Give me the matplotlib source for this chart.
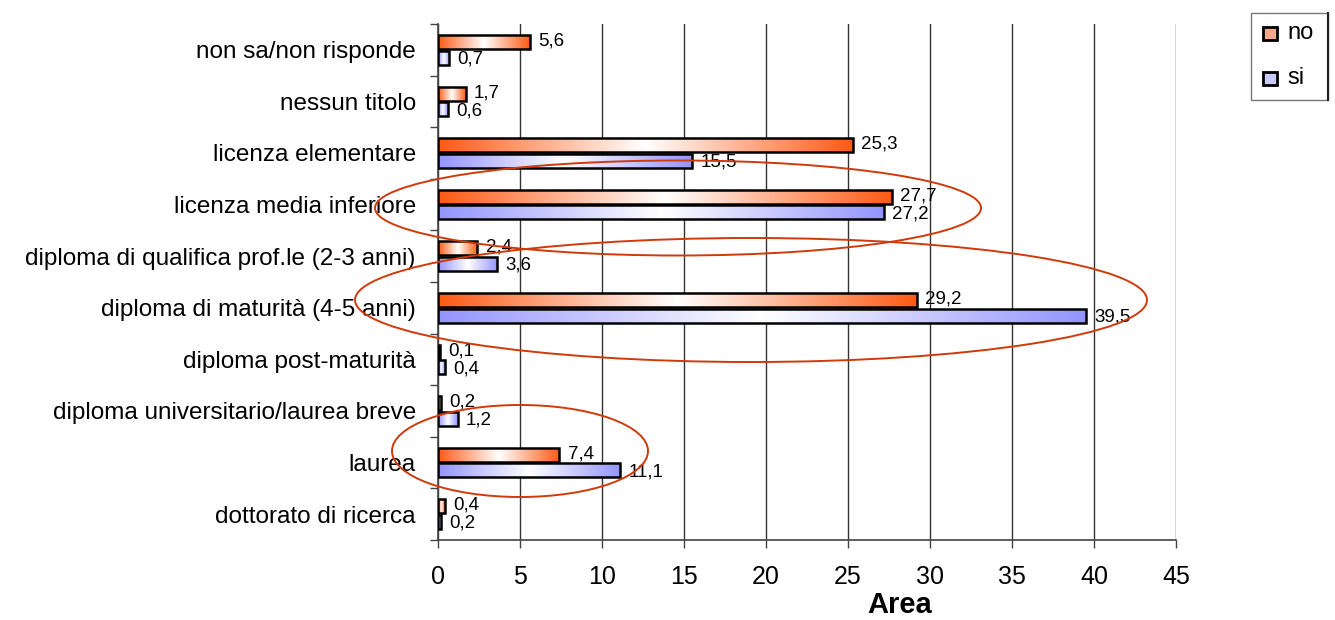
import numpy as np
import matplotlib
matplotlib.use("Agg")
import matplotlib.pyplot as plt
from matplotlib.colors import LinearSegmentedColormap
from matplotlib.patches import Ellipse, Rectangle
from matplotlib.lines import Line2D

plt.rcParams['font.family'] = ['Liberation Sans', 'DejaVu Sans']

categories = [
    "non sa/non risponde",
    "nessun titolo",
    "licenza elementare",
    "licenza media inferiore",
    "diploma di qualifica prof.le (2-3 anni)",
    "diploma di maturità (4-5 anni)",
    "diploma post-maturità",
    "diploma universitario/laurea breve",
    "laurea",
    "dottorato di ricerca",
]
no_values = [5.6, 1.7, 25.3, 27.7, 2.4, 29.2, 0.1, 0.2, 7.4, 0.4]
si_values = [0.7, 0.6, 15.5, 27.2, 3.6, 39.5, 0.4, 1.2, 11.1, 0.2]
series_names = ["no", "si"]
x_ticks = [0, 5, 10, 15, 20, 25, 30, 35, 40, 45]

W, H = 1335, 620
fig = plt.figure(figsize=(W / 100, H / 100), dpi=100)
ax = fig.add_axes([438 / W, 1 - 540 / H, (1176 - 438) / W, (540 - 24) / H])

orange = "#FF5A14"
blue = "#9494FF"
cmap_no = LinearSegmentedColormap.from_list("no", [orange, "white", orange])
cmap_si = LinearSegmentedColormap.from_list("si", [blue, "white", blue])
grad = np.linspace(0, 1, 256).reshape(1, -1)

n = len(categories)
y = np.arange(n)
bh = 0.27


def fmt(v):
    return f"{v:.1f}".replace(".", ",")


for i in range(n):
    for val, off, cmap, dy in ((no_values[i], -0.15, cmap_no, -0.02),
                                (si_values[i], 0.15, cmap_si, 0.03)):
        y0, y1 = y[i] + off - bh / 2, y[i] + off + bh / 2
        ax.imshow(grad, cmap=cmap, aspect="auto", extent=[0, val, y1, y0],
                  interpolation="bicubic", zorder=3)
        ax.barh(y[i] + off, val, height=bh, facecolor="none",
                edgecolor="black", linewidth=1.8, zorder=4)
        ax.text(val + 0.5, y[i] + off + dy, fmt(val), ha="left", va="center",
                fontsize=13.5, zorder=5)

ax.set_xlim(0, 45)
ax.set_ylim(n - 0.5, -0.5)
ax.set_xticks(x_ticks)
ax.set_xticklabels([str(t) for t in x_ticks], fontsize=18)
ax.set_yticks(y)
ax.set_yticklabels(categories, fontsize=17.5)
ax.set_yticks(np.arange(-0.5, n, 1), minor=True)
ax.tick_params(axis="y", which="major", length=0, pad=16)
ax.tick_params(axis="y", which="minor", length=6, width=1, color="#444444")
ax.tick_params(axis="x", length=6, width=1, pad=12, color="#444444")
ax.xaxis.grid(True, color="#333333", linewidth=1, zorder=0)
ax.set_axisbelow(True)
for s in ("top", "right"):
    ax.spines[s].set_visible(False)
for s in ("left", "bottom"):
    ax.spines[s].set_color("#444444")
    ax.spines[s].set_linewidth(1.2)

fig.text(900 / W, 1 - 605 / H, "Area", ha="center", va="center",
         fontsize=21, fontweight="bold")

# annotation ellipses (in pixel positions of the figure)
ell_color = "#D03A0A"
for cx, cy, ew, eh in ((678, 208, 606, 95), (751, 300, 792, 124), (520, 451, 256, 92)):
    fig.patches.append(Ellipse((cx / W, 1 - cy / H), ew / W, eh / H,
                               transform=fig.transFigure, fill=False,
                               edgecolor=ell_color, linewidth=1.4, zorder=10))

# legend box
fig.patches.append(Rectangle((1251 / W, 1 - 100 / H), 77 / W, 87 / H,
                             transform=fig.transFigure, fill=False,
                             edgecolor="#777777", linewidth=1))
fig.lines.append(Line2D([1328 / W, 1328 / W], [1 - 100 / H, 1 - 13 / H],
                        transform=fig.transFigure, color="#222222", linewidth=1.5))
for name, sy, fc in ((series_names[0], 33, "#FBA888"), (series_names[1], 78, "#CACAFF")):
    fig.patches.append(Rectangle((1263 / W, 1 - (sy + 7) / H), 14 / W, 13 / H,
                                 transform=fig.transFigure, facecolor=fc,
                                 edgecolor="black", linewidth=2))
    fig.text(1287 / W, 1 - sy / H, name, ha="left", va="center", fontsize=17)

fig.savefig("out.png", dpi=100)
